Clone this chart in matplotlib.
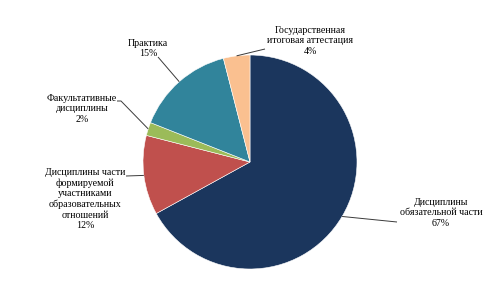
import numpy as np
import matplotlib
matplotlib.use("Agg")
import matplotlib.pyplot as plt

labels = ["Дисциплины\nобязательной части",
          "Дисциплины части\nформируемой\nучастниками\nобразовательных\nотношений",
          "Факультативные\nдисциплины",
          "Практика",
          "Государственная\nитоговая аттестация"]
values = [67, 12, 2, 15, 4]
colors = ["#1b365d", "#c0504d", "#9bbb59", "#31849b", "#fac090"]

W, H = 500, 300
fig = plt.figure(figsize=(5, 3), dpi=100)
ax = fig.add_axes([0, 0, 1, 1])

cx, cy, r = 250, H - 162, 107
wedges, _ = ax.pie(values, colors=colors, startangle=90, counterclock=False,
                   center=(cx, cy), radius=r, frame=True,
                   wedgeprops=dict(edgecolor="white", linewidth=0.4))
ax.set_xlim(0, W)
ax.set_ylim(0, H)
ax.set_aspect("equal")
ax.axis("off")

# label layout: (text center x, text top y in image px, leader path points in image px)
layout = [
    dict(x=441, y=198, path=[(397, 222)]),
    dict(x=85, y=168, path=[(126, 176)]),
    dict(x=82, y=94, path=[(117, 101), (121, 101)]),
    dict(x=148, y=39, path=[(158, 57)]),
    dict(x=310, y=26, path=[(265, 49)]),
]

font = dict(family=["Liberation Serif", "DejaVu Serif"], fontsize=7.2)
for w, lab, v, L in zip(wedges, labels, values, layout):
    ang = np.deg2rad((w.theta1 + w.theta2) / 2)
    ex, ey = cx + r * np.cos(ang), cy + r * np.sin(ang)
    pts = [(ex, ey)] + [(px, H - py) for px, py in reversed(L["path"])]
    xs, ys = zip(*pts)
    ax.plot(xs, ys, color="#3a3a3a", lw=0.7, solid_capstyle="butt")
    ax.text(L["x"], H - L["y"], f"{lab}\n{v}%", ha="center", va="top",
            linespacing=1.2, color="#000000", **font)

fig.savefig("out.png", dpi=100)
